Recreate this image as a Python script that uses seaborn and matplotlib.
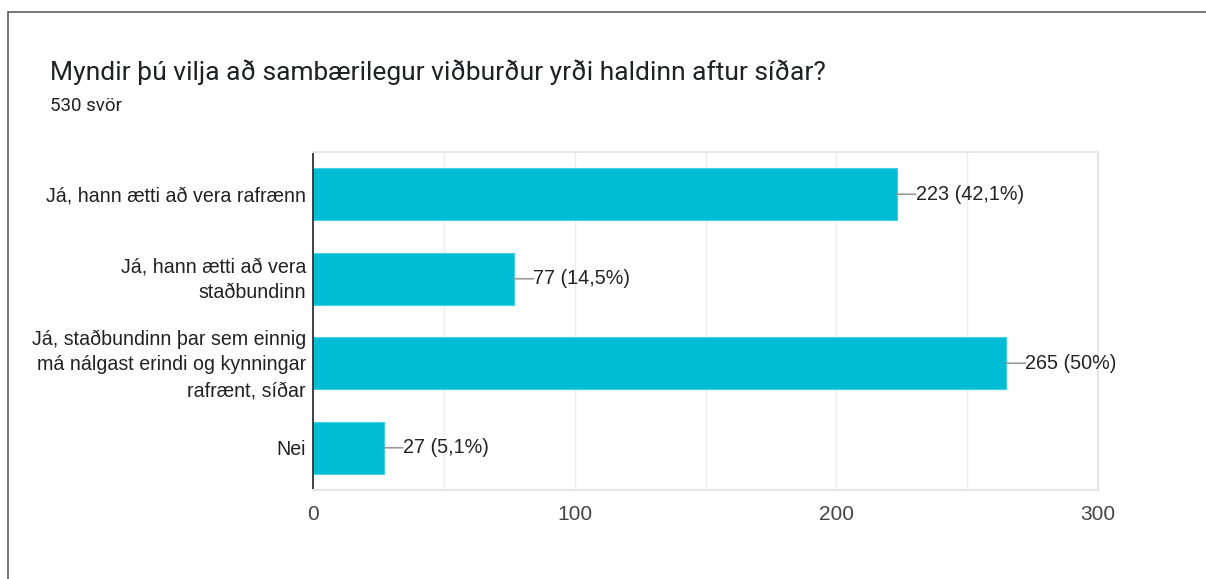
import matplotlib
matplotlib.use("Agg")
import matplotlib.pyplot as plt
from matplotlib.lines import Line2D
from matplotlib.transforms import ScaledTranslation
import pandas as pd
import seaborn as sns

# data
svor = [
    "Já, hann ætti að vera rafrænn",
    "Já, hann ætti að vera\nstaðbundinn",
    "Já, staðbundinn þar sem einnig\nmá nálgast erindi og kynningar\nrafrænt, síðar",
    "Nei",
]
fjoldi = [223, 77, 265, 27]
hlutfall = ["42,1%", "14,5%", "50%", "5,1%"]
x_ticks = [0, 100, 200, 300]

df = pd.DataFrame({"svar": svor, "fjoldi": fjoldi})

sns.set_style("white")
plt.rcParams["font.family"] = ["Liberation Sans", "DejaVu Sans"]

W, H = 1206, 579
fig = plt.figure(figsize=(W / 100, H / 100), dpi=100)

# card border (left + top)
fig.add_artist(Line2D([8 / W, 8 / W], [0, 1 - 12 / H], color="#5f5f5f", lw=1.2))
fig.add_artist(Line2D([8 / W, 1], [1 - 12 / H, 1 - 12 / H], color="#5f5f5f", lw=1.2))

fig.text(50 / W, 1 - 72 / H, "Myndir þú vilja að sambærilegur viðburður yrði haldinn aftur síðar?",
         fontsize=19, family=["Roboto", "DejaVu Sans"], color="#202124", va="center")
fig.text(50 / W, 1 - 106 / H, "530 svör", fontsize=13.5, family=["Roboto", "DejaVu Sans"],
         color="#202124", va="center")

ax = fig.add_axes([313 / W, (H - 490) / H, (1098 - 313) / W, (490 - 152) / H])
sns.barplot(data=df, x="fjoldi", y="svar", color="#00BCD4", saturation=1, width=0.61,
            edgecolor="#3fd0e2", linewidth=0.8, ax=ax)

ax.set_xlim(0, 300)
ax.set_xticks(x_ticks)
ax.set_xticks(range(0, 301, 50), minor=True)
ax.grid(axis="x", which="both", color="#ececec", lw=1)
ax.set_axisbelow(True)
ax.set_xlabel("")
ax.set_ylabel("")
ax.tick_params(axis="x", length=0, pad=11, labelsize=15, labelcolor="#444444")
ax.tick_params(axis="y", length=0, pad=5, labelsize=14.1, labelcolor="#222222")
for lab in ax.get_yticklabels():
    lab.set_linespacing(1.45)
    if "\n" in lab.get_text():
        lab.set_transform(lab.get_transform() + ScaledTranslation(0, 0.04, fig.dpi_scale_trans))

for s in ["top", "right", "bottom"]:
    ax.spines[s].set_color("#e6e6e6")
    ax.spines[s].set_linewidth(1.5)
ax.spines["left"].set_color("#333333")
ax.spines["left"].set_linewidth(1.3)

for i, (v, p) in enumerate(zip(fjoldi, hlutfall)):
    # leader line
    ax.annotate("", xy=(v, i), xytext=(19, 0), textcoords="offset pixels",
                arrowprops=dict(arrowstyle="-", color="#999999", lw=1.2, shrinkA=0, shrinkB=0))
    ax.annotate(f"{v} ({p})", xy=(v, i), xytext=(19, 0), textcoords="offset pixels",
                va="center", ha="left", fontsize=14.2, color="#222222")

fig.savefig("out.png", dpi=100)
